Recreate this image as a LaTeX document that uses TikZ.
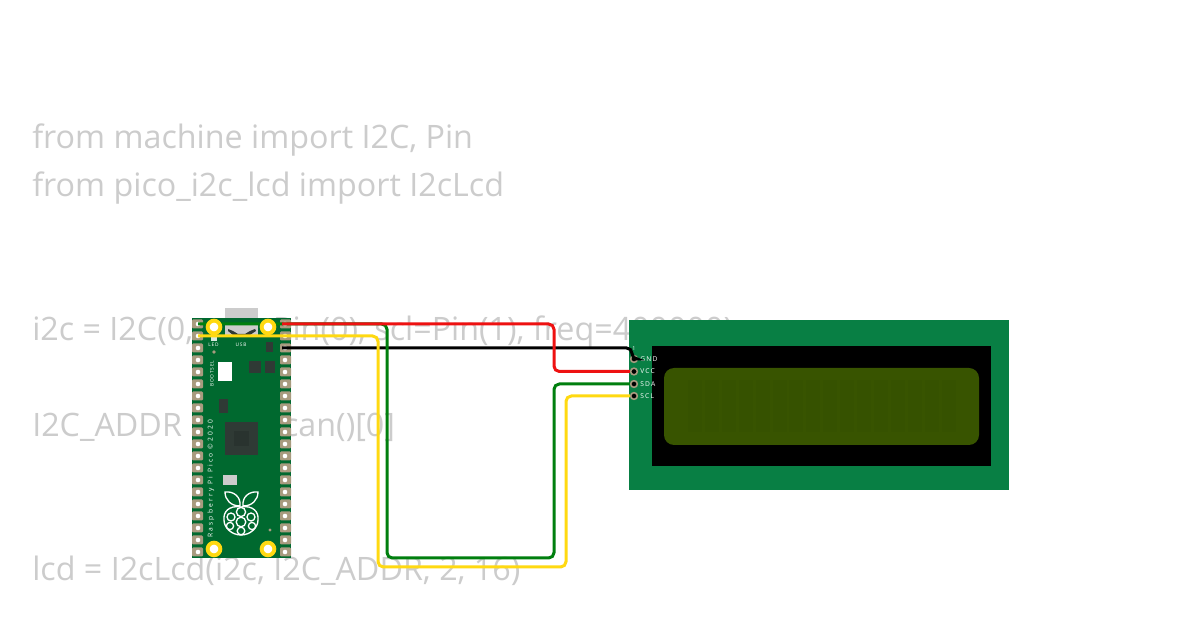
\documentclass[tikz,border=0pt]{standalone}
\usepackage{fontspec}
\setmainfont{Open Sans}
\newfontfamily\spaced[LetterSpace=18]{Open Sans}
\newfontfamily\wspaced[LetterSpace=33]{Open Sans}
\definecolor{codegray}{HTML}{CCCCCC}
\definecolor{pcb}{HTML}{00692F}
\definecolor{lcdpcb}{HTML}{087F44}
\definecolor{lcdscreen}{HTML}{385400}
\definecolor{lcdcell}{HTML}{365200}
\definecolor{pad}{HTML}{A89B7F}
\definecolor{chip}{HTML}{2F3A35}
\definecolor{wyellow}{HTML}{FFD911}
\definecolor{wgreen}{HTML}{007F0E}
\definecolor{wred}{HTML}{EE1111}
\tikzset{
  x=0.75pt,y=-0.75pt,
  codetext/.style={anchor=base west,inner sep=0pt,text=codegray,font=\fontsize{24.2pt}{28pt}\selectfont},
  wire/.style={line width=2.25pt,rounded corners=4pt,line cap=butt},
  pinpad/.style={fill=pad,draw=none,rounded corners=0.8pt},
  pinhole/.style={fill=white,draw=none},
  hole/.style={circle,fill=white,draw=wyellow,line width=2.9pt,minimum size=9.5pt,inner sep=0pt},
  silk/.style={inner sep=0pt,text=white,font=\fontsize{3.6pt}{4pt}\spaced},
  lcdlabel/.style={anchor=west,inner sep=0pt,text=white,font=\fontsize{5pt}{6pt}\spaced},
  lcdpin/.style={circle,fill=black,draw=pad,line width=1.2pt,minimum size=5pt,inner sep=0pt},
  logo/.style={draw=white,line width=1pt,fill=pcb},
}
\begin{document}
\begin{tikzpicture}
\useasboundingbox (0,0) rectangle (1200,630);
\fill[white] (0,0) rectangle (1200,630);
% code text behind the circuit
\node[codetext] (l1) at (32,149) {from machine import I2C, Pin};
\node[codetext] (l2) at (32,197) {from pico\_i2c\_lcd import I2cLcd};
\node[codetext] (l3) at (32,341) {i2c = I2C(0, sda=Pin(0), scl=Pin(1), freq=400000)};
\node[codetext] (l4) at (32,437) {I2C\_ADDR = i2c.scan()[0]};
\node[codetext] (l5) at (32,581) {lcd = I2cLcd(i2c, I2C\_ADDR, 2, 16)};
% LCD
\fill[lcdpcb] (629,320) rectangle (1009,490);
\fill[black] (652,346) rectangle (991,466);
\fill[lcdscreen,rounded corners=7.5pt] (664,368) rectangle (979,445);
\foreach \i in {0,...,15}{
  \pgfmathsetmacro{\cxx}{688+16.9*\i}
  \fill[lcdcell] (\cxx,380) rectangle (\cxx+14,432);
}
\node[lcdpin] (gnd) at (634,359) {};
\node[lcdpin] (vcc) at (634,371.5) {};
\node[lcdpin] (sda) at (634,384) {};
\node[lcdpin] (scl) at (634,396) {};
\node[lcdlabel] (tgnd) at (640,359.5) {GND};
\node[lcdlabel] (tvcc) at (640,371.5) {VCC};
\node[lcdlabel] (tsda) at (640,384) {SDA};
\node[lcdlabel] (tscl) at (640,396) {SCL};
\node[inner sep=0pt,text=white,font=\fontsize{4pt}{5pt}\selectfont] (one) at (634,349) {1};
% Pico board
\fill[codegray] (225,308) rectangle (258,326);
\fill[pcb] (192,318) rectangle (291,558);
\fill[codegray] (225,324) rectangle (258,335);
\fill[chip] (228,329) -- (233,331) -- (238,334) -- (245,334) -- (250,331) -- (255,329) -- (256,331) -- (250,335) -- (233,335) -- (228,331) -- cycle;
\foreach \i in {0,...,19}{
  \pgfmathsetmacro{\py}{324+12*\i}
  \fill[pinpad] (192,\py-4.5) rectangle (203,\py+4.5);
  \fill[pinpad] (280,\py-4.5) rectangle (291,\py+4.5);
  \fill[pinhole] (198,\py) circle (2.3);
  \fill[pinhole] (285,\py) circle (2.3);
}
% parts
\fill[white!85!pcb] (211,334) rectangle (217,341);
\fill[pad] (214,352) circle (1.8);
\fill[chip] (266,342) rectangle (273,352);
\fill[chip] (249,361) rectangle (261,373);
\fill[chip] (265,361) rectangle (275,373);
\fill[white] (218,362) rectangle (232,381);
\fill[chip] (219,399) rectangle (228,413);
\fill[chip] (225,422) rectangle (258,455);
\fill[black!12!chip] (234,431) rectangle (249,446);
\fill[codegray] (223,475) rectangle (237,485);
\fill[pad] (270,530) circle (1.6);
\node[silk] (led) at (213.5,345) {LED};
\node[silk] (usb) at (241,345) {USB};
\node[silk,rotate=90,anchor=west] (boot) at (212,387) {BOOTSEL};
\node[silk,rotate=90,anchor=west,font=\fontsize{5pt}{6pt}\wspaced] (rpi) at (211,538) {Raspberry Pi Pico ©2020};
% Raspberry logo
\draw[logo] (240,506) .. controls (231,506) and (225,500) .. (225,492) .. controls (234,491) and (241,497) .. (240,506) -- cycle;
\draw[logo] (243,506) .. controls (252,506) and (258,500) .. (258,492) .. controls (249,491) and (242,497) .. (243,506) -- cycle;
\draw[logo] (241,507) .. controls (253,505) and (259,512) .. (258,520) .. controls (258,528) and (250,535) .. (241,535) .. controls (232,535) and (224,528) .. (224,520) .. controls (223,512) and (229,505) .. (241,507) -- cycle;
\foreach \cx/\cy/\r in {241/512/4.6,231/517/4,251/517/4,241/522/4.8,230/526/3.6,252/526/3.6,241/531/3.8}{
  \draw[logo] (\cx,\cy) circle (\r);
}
% wire end points on the Pico
\coordinate (pgp0) at (198,324);
\coordinate (pgp1) at (198,336);
\coordinate (pvcc) at (282,324);
\coordinate (pgnd) at (282,348);
% wires
\draw[wire,black] (pgnd) -- (632,348) -- (632,359) -- (gnd.center);
\draw[wire,wgreen] (pgp0) -- (387,324) -- (387,558) -- (554,558) -- (554,384) -- (sda.west);
% mounting holes sit over the green wire
\node[hole] (h1) at (214,327) {};
\node[hole] (h2) at (268,327) {};
\node[hole] (h3) at (214,549) {};
\node[hole] (h4) at (268,549) {};
\draw[wire,wyellow] (pgp1) -- (378,336) -- (378,567) -- (566,567) -- (566,396) -- (scl.west);
\draw[wire,wred] (pvcc) -- (554,324) -- (554,371.5) -- (vcc.west);
\end{tikzpicture}
\end{document}
